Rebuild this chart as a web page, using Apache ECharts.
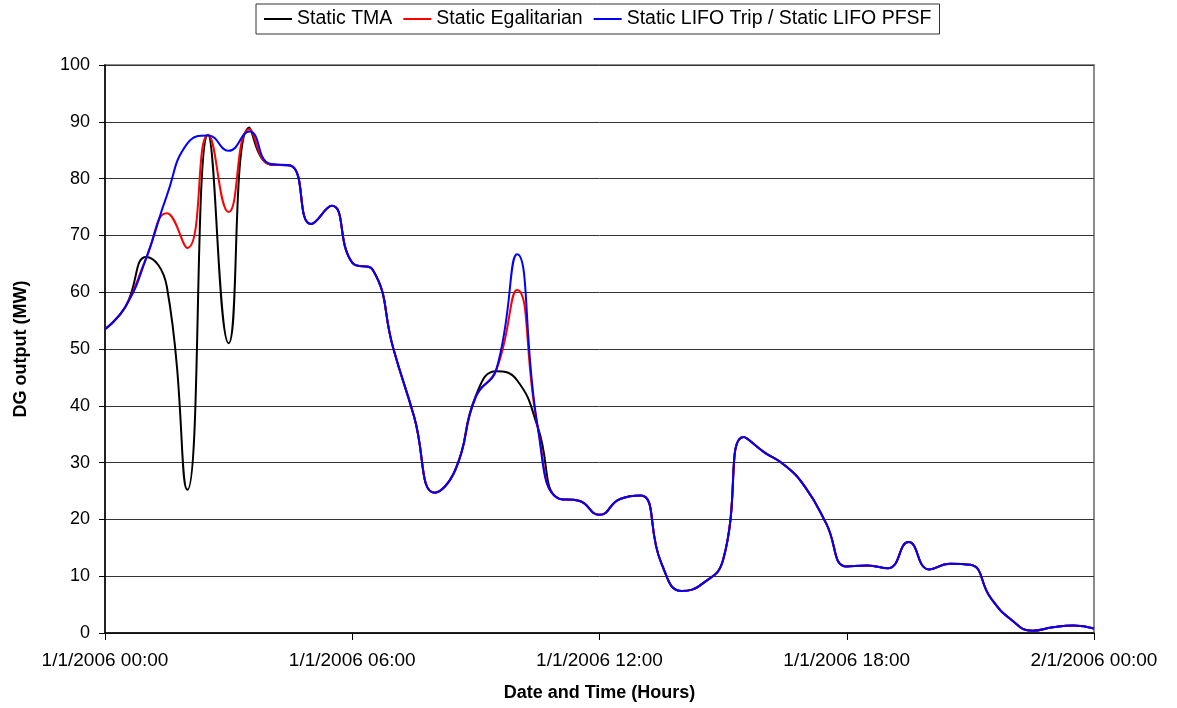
<!DOCTYPE html>
<html>
<head>
<meta charset="utf-8">
<script src="https://cdn.jsdelivr.net/npm/echarts@6/dist/echarts.min.js"></script>
<style>
  html, body { margin: 0; padding: 0; background: #fff; }
  #chart { width: 1177px; height: 708px; }
</style>
</head>
<body>
<div id="chart"></div>
<script>
// half-hour steps from 1/1/2006 00:00 to 2/1/2006 00:00
const hours = []
for (let i = 0; i <= 48; i++) hours.push(i / 2)

const tmaValues = [
  53.5, 57.5, 66.2, 61, 25.2, 87.7, 51, 89, 82.5, 82.3,
  72, 75.2, 65.2, 63.9, 50, 38.1, 24.7, 28.7, 41.8, 46.1,
  44.5, 36.3, 23.7, 23.3, 20.8, 23.6, 24.2, 12.3, 7.4, 8.7,
  12.9, 34.5, 31.8, 29.5, 25.6, 19.3, 11.7, 11.9, 11.4, 16.0,
  11.2, 12.2, 12.0, 6.1, 2.3, 0.4, 1.0, 1.3, 0.8
]
const egalValues = [
  53.5, 57.5, 66, 73.9, 67.8, 87.7, 74.1, 88.7, 82.5, 82.3,
  72, 75.2, 65.2, 63.9, 50, 38.1, 24.7, 28.7, 41.6, 46.4,
  60.4, 36.3, 23.7, 23.3, 20.8, 23.6, 24.2, 12.3, 7.4, 8.7,
  12.9, 34.5, 31.8, 29.5, 25.6, 19.3, 11.7, 11.9, 11.4, 16.0,
  11.2, 12.2, 12.0, 6.1, 2.3, 0.4, 1.0, 1.3, 0.8
]
const lifoValues = [
  53.5, 57.5, 66, 77, 86.2, 87.6, 84.9, 88.3, 82.6, 82.3,
  72, 75.2, 65.2, 63.9, 50, 38.1, 24.7, 28.7, 41.6, 46.5,
  66.7, 36.3, 23.7, 23.3, 20.8, 23.6, 24.2, 12.3, 7.4, 8.7,
  12.9, 34.5, 31.8, 29.5, 25.6, 19.3, 11.7, 11.9, 11.4, 16.0,
  11.2, 12.2, 12.0, 6.1, 2.3, 0.4, 1.0, 1.3, 0.8
]

const seriesNames = ['Static TMA', 'Static Egalitarian', 'Static LIFO Trip / Static LIFO PFSF']
const seriesColors = ['#000000', '#ff0000', '#0000ff']
const tickLabels = {
  0: '1/1/2006 00:00',
  6: '1/1/2006 06:00',
  12: '1/1/2006 12:00',
  18: '1/1/2006 18:00',
  24: '2/1/2006 00:00'
}

const font = "'Liberation Sans', Arial, sans-serif"

function pairs(values) {
  return hours.map((h, i) => [h, values[i]])
}

const chart = echarts.init(document.getElementById('chart'))
const options = {
  backgroundColor: '#ffffff',
  animation: false,
  legend: {
    data: seriesNames,
    left: 256,
    top: 4,
    padding: [5, 8, 5, 8],
    borderColor: '#333',
    borderWidth: 1,
    icon: 'rect',
    itemWidth: 28,
    itemHeight: 2,
    itemGap: 11,
    textStyle: { fontFamily: font, fontSize: 19.5, color: '#000' }
  },
  grid: {
    left: 105,
    right: 83,
    top: 65,
    bottom: 75,
    show: true,
    borderColor: '#8c8c8c',
    borderWidth: 2
  },
  xAxis: {
    type: 'value',
    min: 0,
    max: 24,
    interval: 6,
    name: 'Date and Time (Hours)',
    nameLocation: 'middle',
    nameGap: 51,
    nameTextStyle: { fontFamily: font, fontSize: 18, fontWeight: 'bold', color: '#000' },
    axisLine: { lineStyle: { color: '#000', width: 1.5 } },
    axisTick: { length: 7, lineStyle: { color: '#000' } },
    axisLabel: {
      margin: 18,
      fontFamily: font,
      fontSize: 19,
      color: '#000',
      formatter: v => tickLabels[v]
    },
    splitLine: { show: false }
  },
  yAxis: {
    type: 'value',
    min: 0,
    max: 100,
    interval: 10,
    name: 'DG output (MW)',
    nameLocation: 'middle',
    nameGap: 75,
    nameTextStyle: { fontFamily: font, fontSize: 18, fontWeight: 'bold', color: '#000' },
    axisLine: { show: true, lineStyle: { color: '#000', width: 1.5 } },
    axisTick: { show: true, length: 6, lineStyle: { color: '#000' } },
    axisLabel: { margin: 15, fontFamily: font, fontSize: 18, color: '#000' },
    splitLine: { show: true, lineStyle: { color: '#333', width: 1 } }
  },
  series: seriesNames.map((name, i) => ({
    name: name,
    type: 'line',
    smooth: 0.5,
    showSymbol: false,
    color: seriesColors[i],
    lineStyle: { color: seriesColors[i], width: 2 },
    data: pairs([tmaValues, egalValues, lifoValues][i])
  }))
}
chart.setOption(options)
</script>
</body>
</html>
